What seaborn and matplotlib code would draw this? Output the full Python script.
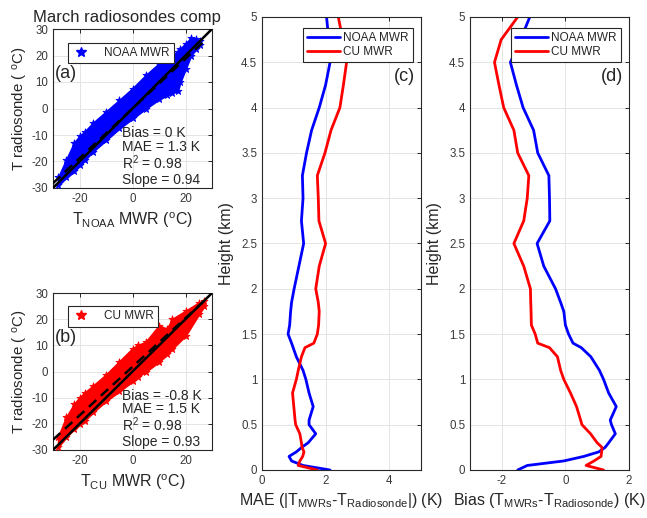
import matplotlib
matplotlib.use("Agg")
import matplotlib.pyplot as plt
from matplotlib.lines import Line2D
from matplotlib.ticker import FuncFormatter
import numpy as np
import pandas as pd
import seaborn as sns

# scatter clouds (envelope): x, lower edge, upper edge
noaa_x = [-28, -25, -22, -20, -18, -15, -10, -5, 0, 5, 10, 13, 15, 17, 18, 20, 22, 24, 25.5]
noaa_lo = [-29, -26, -23.75, -21.5, -19.4, -16.25, -11.9, -7.5, -3.75, 0, 3.5, 5, 6, 6.5, 10, 15, 20, 22.5, 24]
noaa_hi = [-26, -19.4, -13, -10.5, -8.75, -5.6, -1.25, 3.1, 7.5, 12.5, 16.9, 18.5, 20, 21.5, 22.5, 24.4, 26.5, 26.25, 25.5]

cu_x = [-28, -25, -22, -20, -18, -15, -10, -5, 0, 2, 5, 10, 13, 15, 20, 25, 27]
cu_lo = [-28.75, -25, -21.9, -20, -18.75, -15.6, -11.25, -7.5, -3.75, -2, 0, 3.75, 6.5, 8.75, 13.75, 21.9, 25]
cu_hi = [-25, -17.5, -12.5, -10, -8.1, -5.6, -1.25, 3.75, 8.75, 10, 11.25, 17.5, 16.25, 20, 23.1, 26.25, 26.9]

# fit stats
noaa_stats = {"bias": "0", "mae": "1.3", "r2": "0.98", "slope": 0.94, "icpt": 0.0}
cu_stats = {"bias": "-0.8", "mae": "1.5", "r2": "0.98", "slope": 0.93, "icpt": 1.8}

# profiles
height = [0, 0.05, 0.1, 0.15, 0.2, 0.25, 0.3, 0.4, 0.5, 0.55, 0.7, 0.85, 1.0, 1.1, 1.25,
          1.35, 1.4, 1.5, 1.6, 1.75, 1.85, 2.0, 2.25, 2.5, 2.75, 3.0, 3.25, 3.5, 3.75,
          4.0, 4.25, 4.5, 4.75, 5.0]
mae_noaa = [2.14, 1.29, 0.93, 0.85, 1.08, 1.25, 1.45, 1.69, 1.48, 1.48, 1.61, 1.48, 1.38,
            1.29, 1.08, 0.98, 0.93, 0.82, 0.87, 0.9, 0.93, 1.01, 1.16, 1.31, 1.24, 1.29,
            1.27, 1.4, 1.56, 1.8, 2.0, 2.14, 2.1, 2.03]
mae_cu = [1.74, 1.14, 1.19, 1.28, 1.32, 1.26, 1.24, 1.19, 1.06, 1.04, 1.0, 0.96, 1.08,
          1.14, 1.24, 1.35, 1.63, 1.74, 1.78, 1.8, 1.77, 1.69, 1.8, 2.0, 1.79, 1.77,
          1.74, 1.98, 2.17, 2.45, 2.56, 2.66, 2.54, 2.4]
bias_noaa = [-1.5, -1.2, -0.05, 0.58, 1.05, 1.25, 1.36, 1.57, 1.45, 1.41, 1.6, 1.36, 1.2,
             1.07, 0.8, 0.5, 0.24, 0.1, 0.0, -0.05, -0.15, -0.31, -0.68, -0.89, -0.49,
             -0.5, -0.52, -0.87, -1.0, -1.33, -1.54, -1.73, -1.41, -1.12]
bias_cu = [1.2, 0.65, 0.9, 1.12, 1.14, 1.15, 1.0, 0.79, 0.52, 0.48, 0.35, 0.16, -0.05,
           -0.15, -0.25, -0.5, -0.87, -0.95, -1.07, -1.08, -1.09, -1.1, -1.31, -1.62,
           -1.31, -1.2, -1.15, -1.5, -1.62, -1.94, -2.09, -2.23, -2.02, -1.5]

sns.set_style("white")
plt.rcParams["font.family"] = ["Liberation Sans", "DejaVu Sans"]
plt.rcParams["mathtext.fontset"] = "custom"
plt.rcParams["mathtext.rm"] = "Liberation Sans"
plt.rcParams["mathtext.it"] = "Liberation Sans:italic"
plt.rcParams["mathtext.bf"] = "Liberation Sans:bold"
plt.rcParams["axes.unicode_minus"] = False

GRAY = "#262626"
TICKGRAY = "#3a3a3a"
W, H = 647, 518


def px_axes(fig, x0, y0, x1, y1):
    return fig.add_axes([x0 / W, 1 - y1 / H, (x1 - x0) / W, (y1 - y0) / H])


def style_ax(ax):
    for s in ax.spines.values():
        s.set_color(GRAY)
        s.set_linewidth(0.8)
    ax.tick_params(direction="in", top=True, right=True, length=3, width=0.7,
                   colors=GRAY, labelsize=8.3, labelcolor=TICKGRAY)
    ax.grid(True, color="#e4e4e4", linewidth=0.7)
    ax.set_axisbelow(True)


def scatter_panel(ax, xs, lo, hi, color, label, st, letter, xlab):
    style_ax(ax)
    ax.fill_between(xs, lo, hi, color=color, linewidth=1.5, edgecolor=color, zorder=2)
    edge = pd.DataFrame({"x": xs + xs, "y": lo + hi})
    sns.scatterplot(data=edge, x="x", y="y", marker="*", s=28, color=color,
                    edgecolor=color, linewidth=0.6, ax=ax, zorder=3, legend=False)
    line = np.array([-30, 30])
    ax.plot(line, line, color="black", lw=1.8, zorder=4)
    fx = np.array([-30, 28])
    ax.plot(fx, st["slope"] * fx + st["icpt"], color="black", lw=1.8, ls=(0, (4, 2.5)), zorder=5)
    ax.set_xlim(-30, 30)
    ax.set_ylim(-30, 30)
    ax.set_xticks([-20, 0, 20])
    ax.set_yticks(np.arange(-30, 31, 10))
    ax.set_xlabel(xlab, fontsize=11.5, labelpad=4)
    ax.set_ylabel(r"T radiosonde ( $^{\mathrm{o}}$C)", fontsize=10.8, labelpad=1)
    h = Line2D([], [], marker="*", color=color, ls="none", markersize=7)
    leg = ax.legend([h], [label], loc="upper left", bbox_to_anchor=(0.094, 0.915),
                    borderaxespad=0, fancybox=False, framealpha=1, fontsize=8.5,
                    edgecolor=GRAY, handletextpad=1.2, borderpad=0.35, handlelength=1.5)
    leg.get_frame().set_linewidth(0.8)
    ax.text(0.01, 0.69, letter, transform=ax.transAxes, fontsize=13, va="baseline")
    lines = [("Bias = %s K" % st["bias"], 0.318), ("MAE = %s K" % st["mae"], 0.234),
             (r"R$^{2}$ = %s" % st["r2"], 0.118), ("Slope = %.2f" % st["slope"], 0.027)]
    for t, yy in lines:
        ax.text(0.435, yy, t, transform=ax.transAxes, fontsize=10, va="baseline", zorder=6)


def profile_panel(ax, noaa, cu, letter, xlab, xlim, xticks):
    style_ax(ax)
    df = pd.DataFrame({"h": height + height, "v": noaa + cu,
                       "src": ["NOAA MWR"] * len(height) + ["CU MWR"] * len(height)})
    sns.lineplot(data=df, x="v", y="h", hue="src", palette={"NOAA MWR": "blue", "CU MWR": "red"},
                 orient="y", estimator=None, sort=False, lw=2, ax=ax)
    ax.set_xlim(*xlim)
    ax.set_ylim(0, 5)
    ax.set_xticks(xticks)
    ax.set_yticks(np.arange(0, 5.01, 0.5))
    ax.yaxis.set_major_formatter(FuncFormatter(lambda v, p: "%g" % v))
    ax.set_xlabel(xlab, fontsize=11.5, labelpad=3)
    ax.set_ylabel("Height (km)", fontsize=11.5, labelpad=5)
    leg = ax.legend(loc="upper left", bbox_to_anchor=(0.26, 0.975), borderaxespad=0,
                    fancybox=False, framealpha=1, fontsize=8.5, edgecolor=GRAY,
                    handlelength=2.8, handletextpad=0.3, borderpad=0.3, labelspacing=0.2)
    leg.set_title(None)
    leg.get_frame().set_linewidth(0.8)
    ax.text(0.96, 0.868, letter, transform=ax.transAxes, fontsize=13, ha="right", va="center")


fig = plt.figure(figsize=(W / 100, H / 100), dpi=100)
ax_a = px_axes(fig, 53, 29, 212, 188)
ax_b = px_axes(fig, 53, 293, 212, 450)
ax_c = px_axes(fig, 262, 17, 421, 470)
ax_d = px_axes(fig, 470, 17, 629, 470)

scatter_panel(ax_a, noaa_x, noaa_lo, noaa_hi, "blue", "NOAA MWR", noaa_stats, "(a)",
              r"T$_{\mathrm{NOAA}}$ MWR ($^{\mathrm{o}}$C)")
scatter_panel(ax_b, cu_x, cu_lo, cu_hi, "red", "CU MWR", cu_stats, "(b)",
              r"T$_{\mathrm{CU}}$ MWR ($^{\mathrm{o}}$C)")
profile_panel(ax_c, mae_noaa, mae_cu, "(c)",
              r"MAE (|T$_{\mathrm{MWRs}}$-T$_{\mathrm{Radiosonde}}$|) (K)", (0, 5), [0, 2, 4])
profile_panel(ax_d, bias_noaa, bias_cu, "(d)",
              r"Bias (T$_{\mathrm{MWRs}}$-T$_{\mathrm{Radiosonde}}$) (K)", (-3, 2), [-2, 0, 2])

fig.text(33 / W, 1 - 22 / H, "March radiosondes comp", fontsize=12, va="baseline")

fig.savefig("out.png", dpi=100)
